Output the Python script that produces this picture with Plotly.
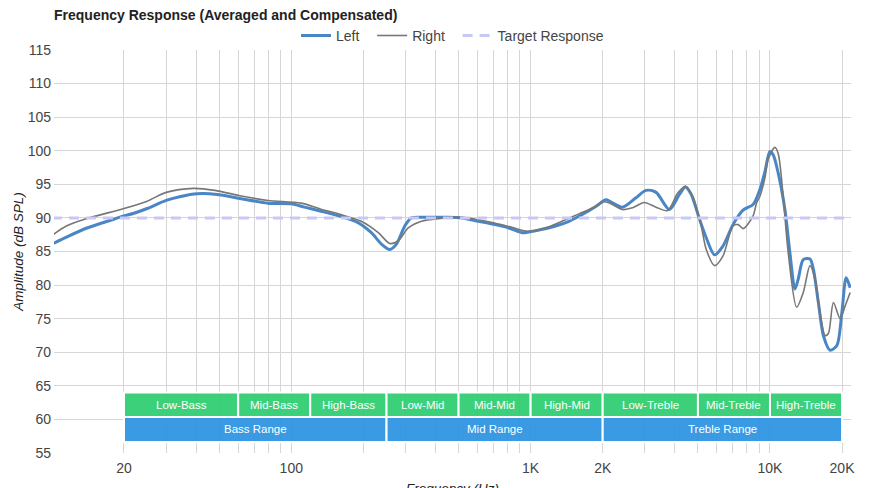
import math
import plotly.graph_objects as go

# ---------------- data ----------------
left_freq = [10, 11.5, 14, 18.1, 20, 22, 25, 30, 34.5, 40.5, 49, 61, 80, 100, 113.5, 133, 162, 190, 216, 238,
             258, 275, 298, 318, 362, 439, 516, 606, 712, 810, 921, 982, 1117, 1271, 1446, 1643, 1871, 2061,
             2163, 2419, 2754, 3033, 3342, 3800, 4184, 4435, 4684, 5077, 5416, 5868, 6358, 7004, 7716, 8498,
             9068, 9516, 9986, 10310, 10818, 11542, 12114, 12714, 13124, 13774, 14692, 15172, 15924, 16712,
             17830, 19020, 19964, 20808, 21628]
left_db = [86.1, 87.15, 88.5, 89.8, 90.3, 90.7, 91.4, 92.6, 93.2, 93.6, 93.5, 92.9, 92.2, 92.1, 91.6, 91.0, 90.2,
           89.3, 87.8, 86.1, 85.3, 86.1, 88.8, 90.0, 90.1, 90.1, 90.0, 89.5, 89.0, 88.5, 87.8, 87.9, 88.3, 88.8,
           89.5, 90.5, 91.7, 92.7, 92.4, 91.6, 93.0, 94.1, 93.8, 91.25, 93.5, 94.6, 93.5, 89.8, 87.05, 84.5, 85.8,
           89.0, 91.15, 92.0, 94.2, 96.8, 99.9, 99.4, 96.7, 91.25, 84.8, 79.4, 80.9, 83.8, 83.9, 82.4, 77.4, 72.5,
           70.3, 71.0, 75.9, 81.1, 79.6]

right_freq = [10, 11.5, 14, 20, 25, 30, 39, 48, 61, 80, 110, 133, 161, 196, 231, 258, 280, 308, 350, 412, 516,
              712, 834, 982, 1154, 1351, 1592, 1871, 2028, 2196, 2419, 2665, 2984, 3342, 3738, 4116, 4435, 4758,
              5161, 5416, 5868, 6358, 7004, 7364, 7730, 8498, 8782, 9068, 9516, 9820, 10478, 10818, 11354, 11918,
              12922, 13774, 14692, 15426, 16188, 16990, 17538, 18406, 19636, 20608, 21628]
right_db = [87.4, 88.8, 89.9, 91.4, 92.5, 93.8, 94.4, 94.1, 93.3, 92.6, 92.2, 91.3, 90.5, 89.5, 87.8, 86.2, 86.6,
            88.5, 89.5, 89.9, 90.1, 89.2, 88.6, 88.0, 88.5, 89.5, 90.6, 91.7, 92.4, 92.0, 91.25, 91.5, 92.3, 91.6,
            91.1, 93.7, 94.7, 93.2, 88.8, 85.3, 82.9, 84.3, 88.8, 89.0, 88.4, 90.3, 92.2, 93.2, 95.9, 98.7, 100.5,
            99.6, 93.2, 84.8, 76.7, 78.9, 82.9, 80.9, 75.9, 72.5, 72.8, 77.4, 75.0, 76.9, 78.9]

target_freq = [10, 21800]
target_db = [90, 90]

sub_bands = ["Low-Bass", "Mid-Bass", "High-Bass", "Low-Mid", "Mid-Mid", "High-Mid",
             "Low-Treble", "Mid-Treble", "High-Treble"]
sub_edges = [20, 60, 120, 250, 500, 1000, 2000, 5000, 10000, 20000]
ranges = ["Bass Range", "Mid Range", "Treble Range"]
range_edges = [20, 250, 2000, 20000]

tick_vals = [20, 30, 40, 50, 60, 70, 80, 90, 100, 200, 300, 400, 500, 600, 700, 800, 900,
             1000, 2000, 3000, 4000, 5000, 6000, 7000, 8000, 9000, 10000, 20000]
tick_text = ["20", "", "", "", "", "", "", "", "100", "", "", "", "", "", "", "", "",
             "1K", "2K", "", "", "", "", "", "", "", "10K", "20K"]

# ---------------- figure ----------------
FONT = "Liberation Sans, Arial, sans-serif"
NB = "\u00a0\u00a0"
fig = go.Figure()

fig.add_trace(go.Scatter(x=left_freq, y=left_db, name="Left" + NB, mode="lines",
                         line=dict(color="#4a86c5", width=3, shape="spline", smoothing=0.8),
                         hoverinfo="skip"))
fig.add_trace(go.Scatter(x=right_freq, y=right_db, name="Right" + NB, mode="lines",
                         line=dict(color="#777777", width=1.6, shape="spline", smoothing=0.8),
                         hoverinfo="skip"))
fig.add_trace(go.Scatter(x=target_freq, y=target_db, name="Target Response", mode="lines",
                         line=dict(color="#c8c8f5", width=3, dash="10px,7px"),
                         hoverinfo="skip"))

GREEN = "rgba(46,204,113,0.93)"
BLUE = "rgba(43,146,226,0.93)"
g_lo, g_hi = 60.35, 64.0
b_lo, b_hi = 56.65, 60.35

shapes = []
annotations = []
for i, name in enumerate(sub_bands):
    f0, f1 = sub_edges[i], sub_edges[i + 1]
    shapes.append(dict(type="rect", xref="x", yref="y", x0=f0, x1=f1, y0=g_lo, y1=g_hi,
                       fillcolor=GREEN, line=dict(color="white", width=2), layer="above"))
    annotations.append(dict(x=math.log10(math.sqrt(f0 * f1)), y=(g_lo + g_hi) / 2, xref="x", yref="y",
                            text=name, showarrow=False, font=dict(family=FONT, size=11.5, color="white")))
for i, name in enumerate(ranges):
    f0, f1 = range_edges[i], range_edges[i + 1]
    shapes.append(dict(type="rect", xref="x", yref="y", x0=f0, x1=f1, y0=b_lo, y1=b_hi,
                       fillcolor=BLUE, line=dict(color="white", width=2), layer="above"))
    annotations.append(dict(x=math.log10(math.sqrt(f0 * f1)), y=(b_lo + b_hi) / 2, xref="x", yref="y",
                            text=name, showarrow=False, font=dict(family=FONT, size=11.5, color="white")))

fig.update_layout(
    width=870, height=488,
    margin=dict(l=46, r=27, t=40, b=43),
    paper_bgcolor="white", plot_bgcolor="white",
    font=dict(family=FONT, size=14, color="#444"),
    title=dict(text="<b>Frequency Response (Averaged and Compensated)</b>",
               x=0, xref="paper", xanchor="left",
               y=1 - 7 / 488, yref="container", yanchor="middle",
               font=dict(family=FONT, size=14, color="#222")),
    legend=dict(orientation="h", x=0.5, xanchor="center", y=1.035, yanchor="middle",
                font=dict(family=FONT, size=14, color="#444"), bgcolor="rgba(0,0,0,0)",
                itemwidth=30),
    showlegend=True,
    shapes=shapes,
    annotations=annotations,
)

fig.update_xaxes(type="log", range=[math.log10(10.2), math.log10(21800)],
                 tickvals=tick_vals, ticktext=tick_text, ticks="",
                 showgrid=True, gridcolor="#d6d6d6", gridwidth=1,
                 zeroline=False, showline=False, ticklabelstandoff=5,
                 tickfont=dict(family=FONT, size=14, color="#444"),
                 title=dict(text="<i>Frequency (Hz)</i>", font=dict(family=FONT, size=13.5, color="#222")),
                 automargin=False)
fig.update_yaxes(range=[55, 115], tick0=55, dtick=5, ticks="",
                 showgrid=True, gridcolor="#d6d6d6", gridwidth=1,
                 zeroline=False, showline=False, ticklabelstandoff=2,
                 tickfont=dict(family=FONT, size=14, color="#444"),
                 title=dict(text="<i>Amplitude (dB SPL)</i>", font=dict(family=FONT, size=13.5, color="#222"),
                            standoff=0),
                 automargin=False)

fig.write_html("out.html")
